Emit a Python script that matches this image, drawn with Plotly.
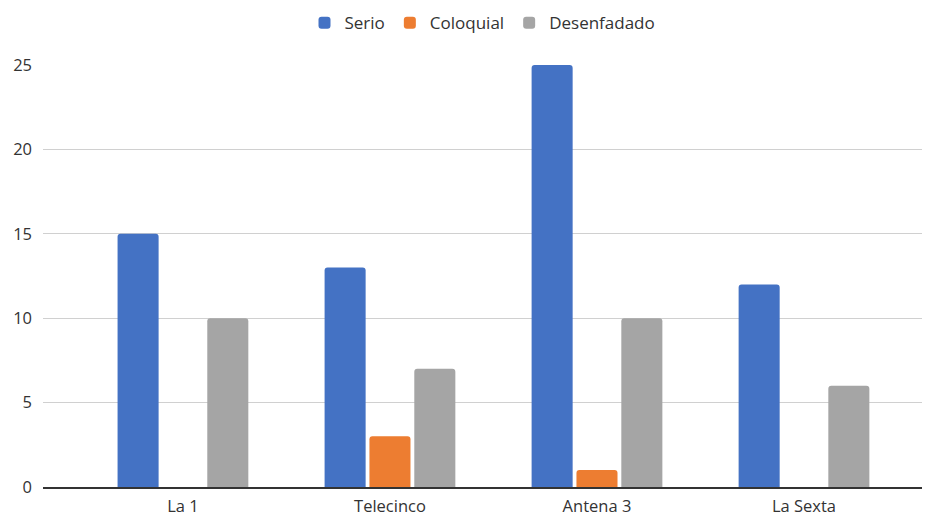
import plotly.graph_objects as go

categories = ["La 1", "Telecinco", "Antena 3", "La Sexta"]
serio = [15, 13, 25, 12]
coloquial = [0, 3, 1, 0]
desenfadado = [10, 7, 10, 6]
series_names = ["Serio", "Coloquial", "Desenfadado"]
colors = ["#4472C4", "#ED7D31", "#A5A5A5"]
y_ticks = [0, 5, 10, 15, 20, 25]

fig = go.Figure()
for name, vals, col in zip(series_names, [serio, coloquial, desenfadado], colors):
    fig.add_trace(go.Bar(
        x=list(range(len(categories))), y=vals, name=name,
        marker=dict(color=col, cornerradius=3, line=dict(width=0)),
    ))

fig.update_layout(
    width=934, height=516,
    margin=dict(l=43, r=12, t=65, b=29, autoexpand=False),
    paper_bgcolor="white", plot_bgcolor="white",
    barmode="group", bargap=0.35, bargroupgap=0.085,
    font=dict(family="Open Sans, sans-serif", size=16, color="#333333"),
    legend=dict(orientation="h", x=0.5, xanchor="center", y=0.99, yanchor="top",
                yref="container", font=dict(size=17, color="#333333"),
                itemwidth=30, traceorder="normal"),
    xaxis=dict(
        tickmode="array", tickvals=list(range(len(categories))), ticktext=categories,
        range=[-0.676, 3.57], showgrid=False, zeroline=False, automargin=False,
        showline=True, linecolor="#333333", linewidth=1.5, ticks="",
        tickfont=dict(size=16.5, color="#333333"), ticklabelstandoff=3,
    ),
    yaxis=dict(
        range=[0, 25], tickvals=y_ticks, showgrid=True, gridcolor="#D0D0D0",
        gridwidth=1, zeroline=False, showline=False, ticks="", automargin=False,
        tickfont=dict(size=16.5, color="#333333"), ticklabelstandoff=10,
    ),
)

fig.write_html("out.html")
